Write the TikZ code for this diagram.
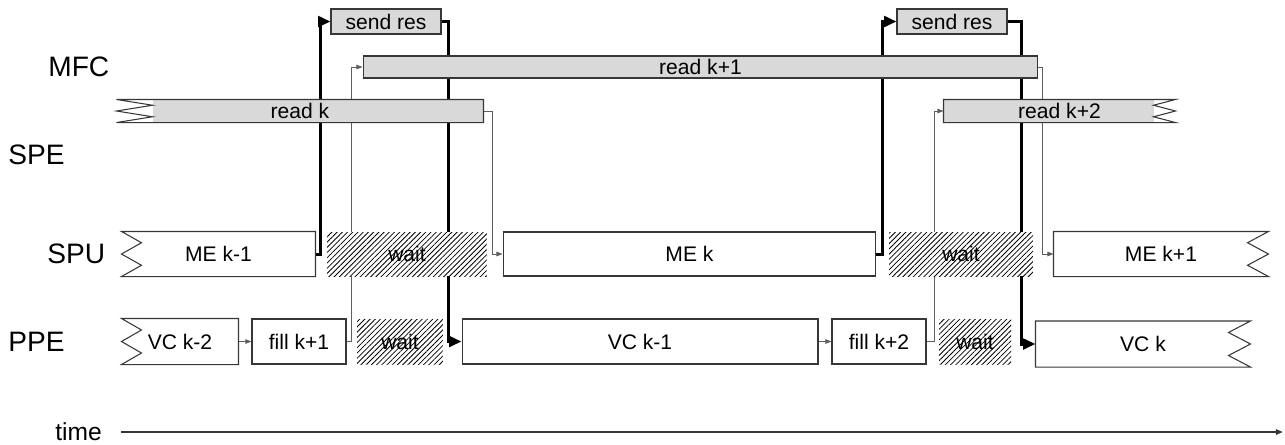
\documentclass[tikz,border=0pt]{standalone}
\usepackage{fontspec}
\setmainfont{Liberation Sans}
\usetikzlibrary{arrows.meta,calc,patterns.meta}
\definecolor{TlEdge}{RGB}{55,55,55}
\definecolor{TlShade}{RGB}{217,217,217}
\definecolor{TlWire}{RGB}{95,95,95}
\pgfdeclarelayer{wires}
\pgfdeclarelayer{tiles}
\pgfsetlayers{wires,tiles,main}
\tikzset{
  tl/task/.style={
    draw=TlEdge,
    line width=0.6pt,
    fill=white,
    minimum height=0.9cm,
    inner sep=0pt,
    font=\fontsize{12}{14}\selectfont
  },
  tl/spu/.style={tl/task, minimum height=0.88cm},
  tl/dma/.style={tl/task, fill=TlShade, minimum height=0.44cm},
  tl/send/.style={tl/task, fill=TlShade, minimum height=0.5cm},
  tl/ragged/.style={draw=none, fill=none},
  tl/wait/.style={
    inner sep=0pt,
    preaction={fill=white},
    pattern={Lines[angle=45,distance=2.1pt,line width=0.45pt]},
    font=\fontsize{12}{14}\selectfont
  },
  tl/lane/.style={anchor=west, inner sep=0pt, font=\fontsize{16}{19}\selectfont},
  tl/sync/.style={-{Triangle[length=7pt,width=6pt]}, line width=1.7pt, draw=black},
  tl/flow/.style={-{Triangle[length=3.5pt,width=2.6pt]}, line width=0.5pt, draw=TlWire},
  tl/axis/.style={-{Triangle[length=4pt,width=3pt]}, line width=1pt, draw=TlEdge}
}
% box with torn left / right end
\newcommand{\zigwest}[3][white]{%
  \fill[#1] ($(#2.north west)+(#3,0)$) rectangle (#2.south east);
  \draw[TlEdge, line width=0.6pt] (#2.north west) -- (#2.north east) -- (#2.south east) -- (#2.south west)
    -- ($(#2.south west)!0.25!(#2.north west)+(#3,0)$) -- (#2.west)
    -- ($(#2.north west)!0.25!(#2.south west)+(#3,0)$) -- cycle;
}
\newcommand{\zigeast}[3][white]{%
  \fill[#1] (#2.north west) rectangle ($(#2.south east)+(-#3,0)$);
  \draw[TlEdge, line width=0.6pt] (#2.north east) -- (#2.north west) -- (#2.south west) -- (#2.south east)
    -- ($(#2.south east)!0.25!(#2.north east)+(-#3,0)$) -- (#2.east)
    -- ($(#2.north east)!0.25!(#2.south east)+(-#3,0)$) -- cycle;
}

\begin{document}
\begin{tikzpicture}[x=0.02cm,y=-0.02cm]
  \useasboundingbox (0,0) rectangle (1285,444);

  % lanes
  \node[tl/lane] (mfc) at (48,67) {MFC};
  \node[tl/lane] (spe) at (8,155) {SPE};
  \node[tl/lane] (spu) at (47,254) {SPU};
  \node[tl/lane] (ppe) at (8,342) {PPE};
  \node[tl/lane, font=\fontsize{14}{17}\selectfont] (timelbl) at (55,432) {time};
  \coordinate (tend) at (1283,432);

  % MFC transfers
  \node[tl/send, minimum width=2.2cm] (sendA) at (386,21.5) {send res};
  \node[tl/send, minimum width=2.2cm] (sendB) at (952,21.5) {send res};
  \node[tl/dma, minimum width=13.5cm] (readK1) at (700.5,67) {read k+1};
  \node[tl/dma, tl/ragged, minimum width=7.32cm] (readK) at (300,111) {read k};
  \node[tl/dma, tl/ragged, minimum width=4.62cm] (readK2) at (1059.5,111) {read k+2};

  % SPU
  \node[tl/spu, tl/ragged, minimum width=3.86cm] (meKm1) at (218.5,254) {ME k-1};
  \node[tl/wait, minimum width=3.2cm, minimum height=0.88cm] (waitS1) at (407,254) {wait};
  \node[tl/spu, minimum width=7.46cm] (meK) at (689.5,254) {ME k};
  \node[tl/wait, minimum width=2.88cm, minimum height=0.88cm] (waitS2) at (961,254) {wait};
  \node[tl/spu, tl/ragged, minimum width=4.28cm] (meKp1) at (1161,254) {ME k+1};

  % PPE
  \node[tl/task, tl/ragged, minimum width=2.32cm] (vcKm2) at (180,341.5) {VC k-2};
  \node[tl/task, minimum width=1.88cm] (fillK1) at (299,341.5) {fill k+1};
  \node[tl/wait, minimum width=1.72cm, minimum height=0.9cm] (waitP1) at (400,341.5) {wait};
  \node[tl/task, minimum width=7.12cm] (vcKm1) at (640,341.5) {VC k-1};
  \node[tl/task, minimum width=1.88cm] (fillK2) at (879,341.5) {fill k+2};
  \node[tl/wait, minimum width=1.44cm, minimum height=0.9cm] (waitP2) at (975,341.5) {wait};
  \node[tl/task, tl/ragged, minimum width=4.28cm] (vcK) at (1143,344) {VC k};

  \begin{pgfonlayer}{tiles}
    \zigwest[TlShade]{readK}{36}
    \zigeast[TlShade]{readK2}{22}
    \zigwest{meKm1}{20}
    \zigeast{meKp1}{21}
    \zigwest{vcKm2}{20}
    \zigeast{vcK}{22}
  \end{pgfonlayer}

  \begin{pgfonlayer}{wires}
    % results out and back
    \draw[tl/sync] (meKm1.east) -- ++(5,0) |- (sendA.west);
    \draw[tl/sync] (sendA.east) -- ++(7,0) |- (vcKm1.west);
    \draw[tl/sync] (meK.east) -- ++(6,0) |- (sendB.west);
    \draw[tl/sync] (sendB.east) -- ++(14,0) |- (vcK.west);
    % fills and reads
    \draw[tl/flow] (vcKm2.east) -- (fillK1.west);
    \draw[tl/flow] (fillK1.east) -- ++(5,0) |- (readK1.west);
    \draw[tl/flow] (readK.east) -- ++(9,0) |- (meK.west);
    \draw[tl/flow] (vcKm1.east) -- (fillK2.west);
    \draw[tl/flow] (fillK2.east) -- ++(8,0) |- (readK2.west);
    \draw[tl/flow] (readK1.east) -- ++(4,0) |- (meKp1.west);
  \end{pgfonlayer}

  \draw[tl/axis] ([xshift=11pt]timelbl.east) -- (tend);
\end{tikzpicture}
\end{document}
